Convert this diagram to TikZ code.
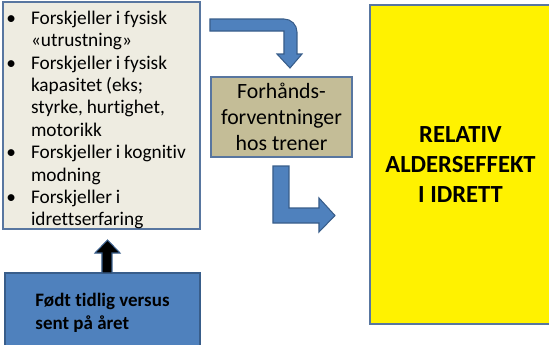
\documentclass[tikz,border=0pt]{standalone}
\usepackage{fontspec}
\setmainfont{Carlito}[Ligatures={NoCommon}]
\usepackage{enumitem}
\usetikzlibrary{positioning}
\definecolor{boxline}{RGB}{88,118,160}
\definecolor{beige}{RGB}{238,236,225}
\definecolor{tan}{RGB}{196,189,151}
\definecolor{arrowblue}{RGB}{79,129,189}
\definecolor{arrowline}{RGB}{56,93,138}

\begin{document}
\begin{tikzpicture}[x=0.02cm,y=-0.02cm,
  box/.style={draw=boxline, line width=0.8pt, inner sep=0pt},
  blockarrow/.style={fill=arrowblue, draw=arrowline, line width=0.6pt, line join=miter}]
\useasboundingbox (0,0) rectangle (549,345);

\node[box, fill=beige, minimum width=3.94cm, minimum height=4.54cm, text width=3.94cm, align=left,
  font=\fontsize{11}{12.75}\selectfont] (fysisk) at (101.5,115.5) {%
  \spaceskip=0.2em\relax
  \begin{itemize}[leftmargin=0.56cm, labelsep=0.3cm, itemsep=0pt, topsep=0pt, parsep=0pt, partopsep=0pt, label=\textbullet]
  \raggedright
  \item Forskjeller i fysisk\\«utrustning»
  \item Forskjeller i fysisk\\kapasitet (eks;\\styrke, hurtighet,\\motorikk
  \item Forskjeller i kognitiv\\modning
  \item Forskjeller i\\idrettserfaring
  \end{itemize}};
\node[box, fill=tan, minimum width=2.82cm, minimum height=1.6cm, align=center,
  font=\fontsize{12.4}{14.7}\selectfont] (trener) at (281.5,117) {Forhånds-\\forventninger\\hos trener};
\node[box, fill=yellow, minimum width=3.62cm, minimum height=6.38cm, align=center,
  font=\bfseries\fontsize{14}{17}\selectfont] (rae) at (460.5,164.5) {RELATIV\\ALDERSEFFEKT\\I IDRETT};
\node[box, draw=arrowline, fill=arrowblue, minimum width=3.9cm, minimum height=1.58cm, align=left,
  font=\bfseries\fontsize{10.8}{13}\selectfont] (fodt) at (102.5,312.5) {Født tidlig versus\\sent på året};

\coordinate (pil1) at (210,19);
\coordinate (pil2) at (273,166);
\coordinate (pil3) at (102,273);
\draw[blockarrow] (pil1) -- ++(74,0) arc[start angle=-90, end angle=0, radius=13] -- ++(0,22) -- ++(5,0)
  -- ++(-12,14) -- ++(-13,-14) -- ++(7,0) -- ++(0,-23) -- ++(-74,0) -- cycle;
\draw[blockarrow] (pil2) -- ++(16,0) -- ++(0,42) -- ++(30,0) -- ++(0,-10) -- ++(16,17.5)
  -- ++(-16,16.5) -- ++(0,-9) -- ++(-46,0) -- cycle;
\draw[blockarrow, fill=black] (pil3) -- ++(0,-20) -- ++(-7,0) -- ++(12.5,-13) -- ++(12.5,13)
  -- ++(-8,0) -- ++(0,20) -- cycle;
\end{tikzpicture}
\end{document}
